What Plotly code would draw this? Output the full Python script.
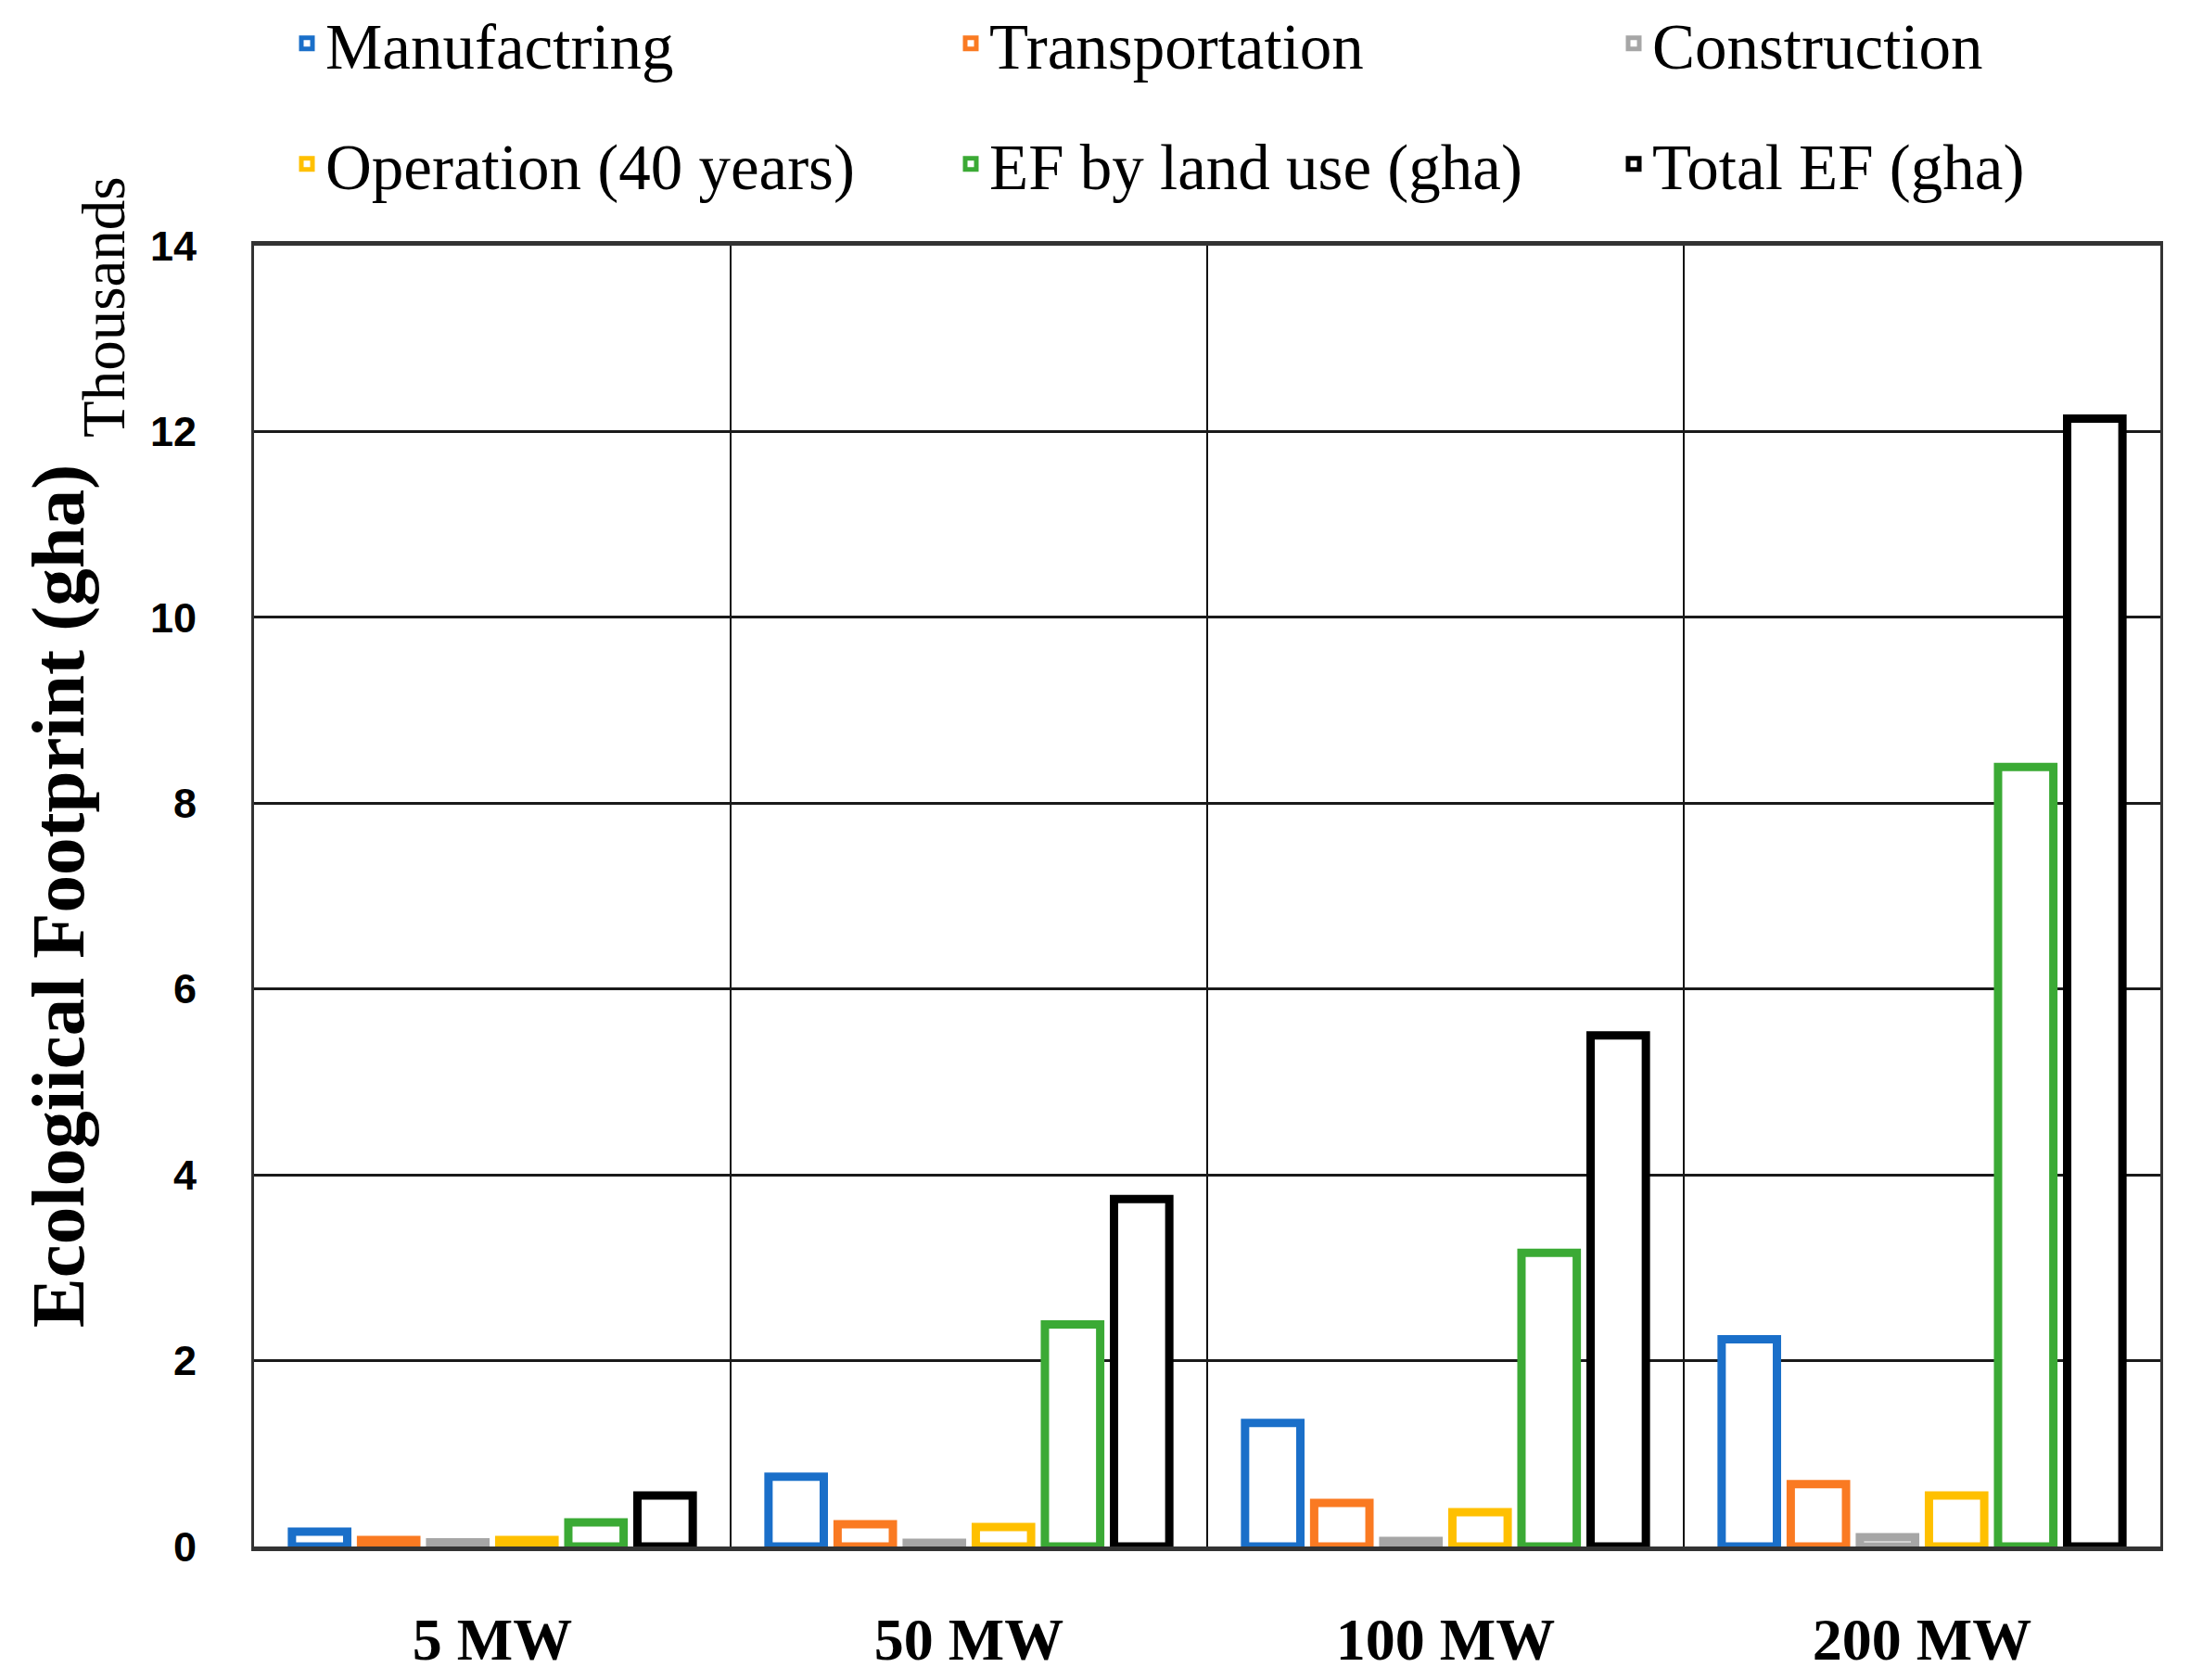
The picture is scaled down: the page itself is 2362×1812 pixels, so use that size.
import plotly.graph_objects as go

categories = ["5 MW", "50 MW", "100 MW", "200 MW"]
manufacturing = [0.16, 0.75, 1.33, 2.23]
transportation = [0.07, 0.24, 0.47, 0.67]
construction = [0.045, 0.04, 0.06, 0.10]
operation = [0.07, 0.21, 0.37, 0.55]
ef_land_use = [0.26, 2.39, 3.16, 8.39]
total_ef = [0.55, 3.74, 5.50, 12.14]
y_ticks = [0, 2, 4, 6, 8, 10, 12, 14]

series_names = ["Manufactring", "Transportation", "Construction",
                "Operation (40 years)", "EF by land use (gha)", "Total EF (gha)"]
series_values = [manufacturing, transportation, construction,
                 operation, ef_land_use, total_ef]
series_colors = ["#1A6FC9", "#FA7A22", "#A6A6A6", "#FFC000", "#3BAA35", "#000000"]

W, H = 2362, 1812
PL, PR, PT, PB = 266, 2322, 257, 1660  # plot area edges in px
PW, PH = PR - PL, PB - PT

legend_ids = ["legend", "legend2", "legend3", "legend4", "legend5", "legend6"]
# legend entry text start (px from left) and row centre (px from top)
legend_text_x = [353, 1069, 1784, 353, 1069, 1784]
legend_row_y = [39, 39, 39, 169, 169, 169]

fig = go.Figure()
for name, vals, color, leg in zip(series_names, series_values, series_colors, legend_ids):
    fig.add_trace(go.Bar(
        x=categories, y=vals, name=name, legend=leg,
        marker=dict(color="white", line=dict(color=color, width=9)),
    ))

legend_font = dict(family="Liberation Serif", size=69, color="black")
legends = {}
for leg, tx, ty in zip(legend_ids, legend_text_x, legend_row_y):
    legends[leg] = dict(
        orientation="h", xref="paper", yref="paper",
        x=(tx - 50 - PL) / PW, y=(PB - ty) / PH, xanchor="left", yanchor="middle",
        font=legend_font, bgcolor="rgba(0,0,0,0)",
    )

fig.update_layout(
    width=W, height=H,
    margin=dict(l=PL, r=W - PR, t=PT, b=H - PB, autoexpand=False),
    paper_bgcolor="white", plot_bgcolor="white",
    barmode="group", bargap=0.13, bargroupgap=0.2,
    showlegend=True,
    xaxis=dict(
        type="category", tickson="boundaries", showgrid=True,
        gridcolor="#111111", gridwidth=2, ticks="", automargin=False,
        showline=True, linecolor="#333333", linewidth=5, mirror=True,
        tickfont=dict(family="Liberation Serif", size=64, color="black", weight="bold"),
        ticklabelstandoff=40,
    ),
    yaxis=dict(
        range=[0, 14], tickvals=y_ticks, showgrid=True, automargin=False,
        gridcolor="#1a1a1a", gridwidth=3, zeroline=False,
        showline=True, linecolor="#333333", linewidth=3, mirror=True, ticks="",
        tickfont=dict(family="Liberation Sans", size=45, color="black", weight="bold"),
        ticklabelstandoff=50,
        title=dict(text="Ecologiical Footprint (gha)", standoff=45,
                   font=dict(family="Liberation Serif", size=81, color="black", weight="bold")),
    ),
    annotations=[dict(
        text="Thousands", xref="paper", yref="paper",
        x=(104 - PL) / PW, y=(PB - 323) / PH,
        xanchor="center", yanchor="middle", textangle=-90, showarrow=False,
        font=dict(family="Liberation Serif", size=65, color="black"),
    )],
    **legends,
)

fig.write_html("out.html")
